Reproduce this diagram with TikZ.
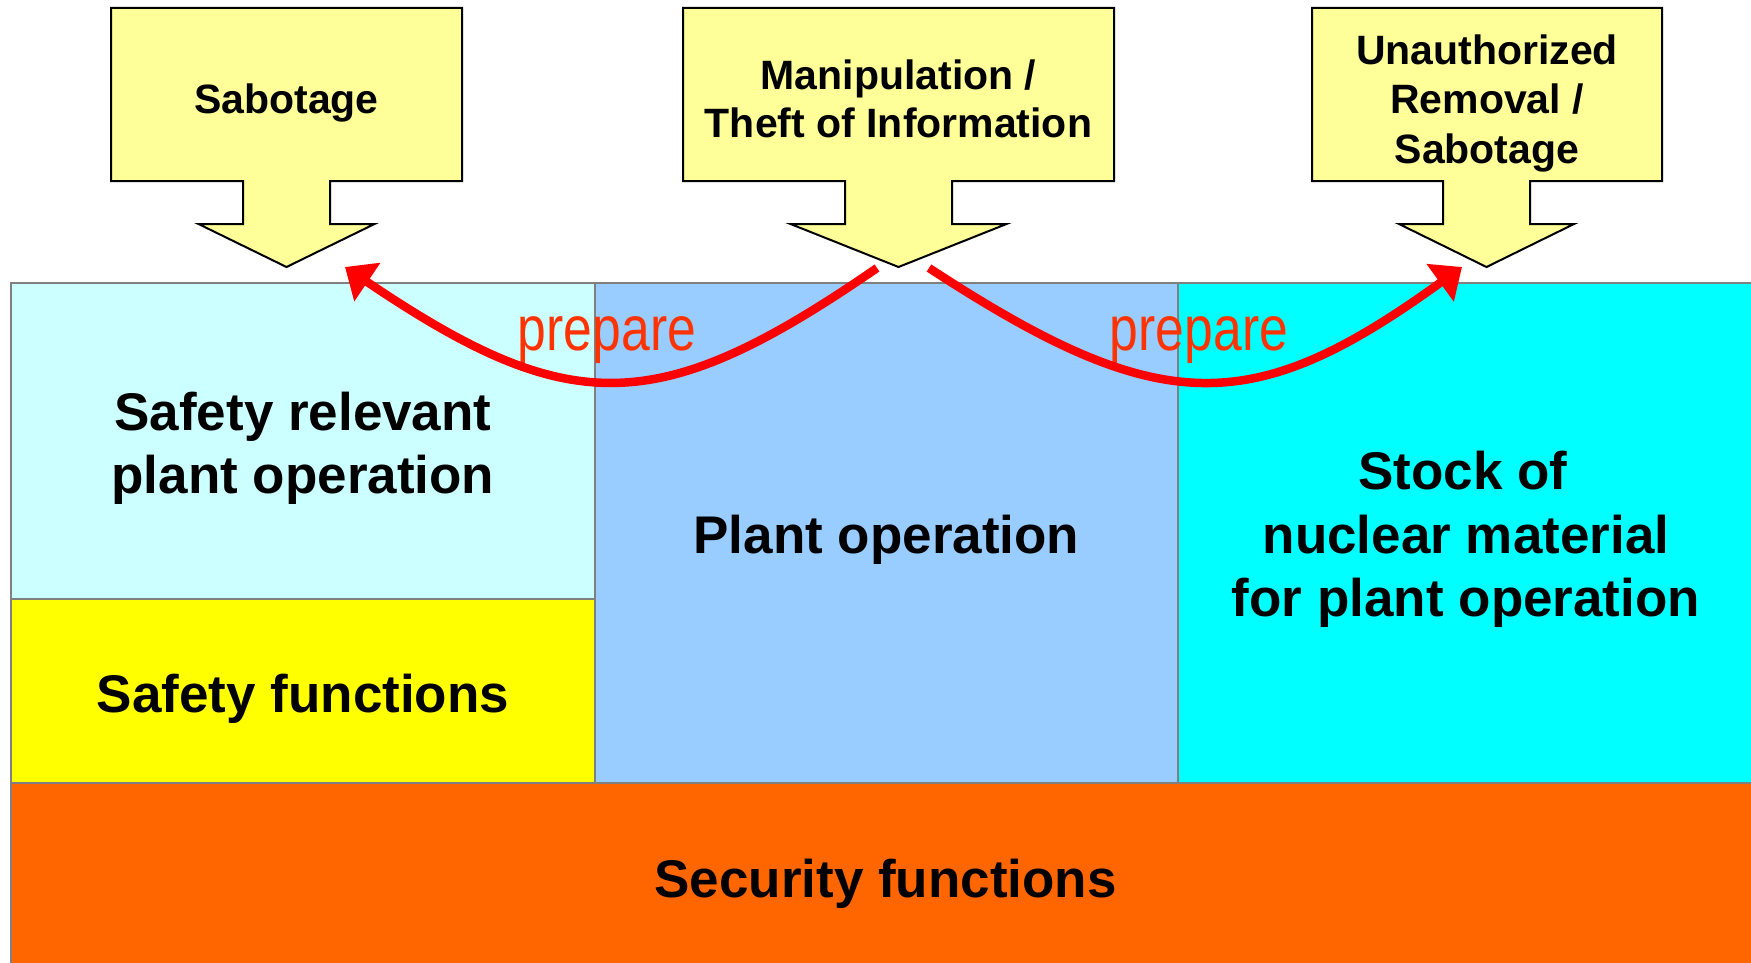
\documentclass[tikz,border=0pt]{standalone}
\usepackage{fontspec}
\setmainfont{Liberation Sans}
\usetikzlibrary{arrows.meta}

\definecolor{calloutfill}{HTML}{FFFF99}
\definecolor{safetyrel}{HTML}{CCFFFF}
\definecolor{plantop}{HTML}{99CCFF}
\definecolor{stockcol}{HTML}{00FFFF}
\definecolor{safetyfn}{HTML}{FFFF00}
\definecolor{securityfn}{HTML}{FF6600}
\definecolor{panelline}{HTML}{808080}
\definecolor{preparetext}{HTML}{FF3300}

\begin{document}
\begin{tikzpicture}[x=1pt,y=-1pt,
  callout/.style={draw=black, line width=2pt, fill=calloutfill, line join=miter},
  zone/.style={draw=panelline, line width=2pt},
  threat/.style={font=\bfseries\fontsize{41}{48}\selectfont, anchor=base, inner sep=0pt},
  areatext/.style={font=\bfseries\fontsize{53}{63}\selectfont, anchor=base, inner sep=0pt},
  preplabel/.style={font=\fontsize{63}{70}\selectfont, text=preparetext, anchor=base, inner sep=0pt},
  prep/.style={draw=red, line width=8.5pt, -{Triangle[length=27pt,width=45pt]}}
]
\useasboundingbox (0,0) rectangle (1751,963);
\clip (0,0) rectangle (1751,963);

% lower panel: plant areas and the security layer
\draw[zone, fill=safetyrel]  (11,283)   rectangle (595,599);
\draw[zone, fill=safetyfn]   (11,599)   rectangle (595,783);
\draw[zone, fill=plantop]    (595,283)  rectangle (1178,783);
\draw[zone, fill=stockcol]   (1178,283) rectangle (1770,783);
\draw[zone, fill=securityfn] (11,783)   rectangle (1770,990);

% threat callouts (box with a downward block arrow)
\draw[callout] (111,8) -- (462,8) -- (462,181) -- (330,181) -- (330,224)
  -- (374.5,224) -- (286.5,267) -- (198.5,224) -- (243,224) -- (243,181)
  -- (111,181) -- cycle;
\draw[callout] (683,8) -- (1114,8) -- (1114,181) -- (952,181) -- (952,224)
  -- (1006.5,224) -- (898.5,267) -- (790.5,224) -- (845,224) -- (845,181)
  -- (683,181) -- cycle;
\draw[callout] (1312,8) -- (1662,8) -- (1662,181) -- (1530,181) -- (1530,224)
  -- (1574,224) -- (1486.5,267) -- (1399,224) -- (1443,224) -- (1443,181)
  -- (1312,181) -- cycle;

% callout texts
\node[threat] (sab)  at (286.5,114)  {Sabotage};
\node[threat] (man1) at (898.5,89.3) {Manipulation /};
\node[threat] (man2) at (898.5,137.3) {Theft of Information};
\node[threat] (unr1) at (1487,65)    {Unauthorized};
\node[threat] (unr2) at (1487,113.3) {Removal /};
\node[threat] (unr3) at (1487,163.3) {Sabotage};

% area texts
\node[areatext] (srp1) at (303,430) {Safety relevant};
\node[areatext] (srp2) at (303,493) {plant operation};
\node[areatext] (sf)   at (303,712) {Safety functions};
\node[areatext] (po)   at (886.5,553) {Plant operation};
\node[areatext] (st1)  at (1463,489) {Stock of};
\node[areatext] (st2)  at (1466,553) {nuclear material};
\node[areatext] (st3)  at (1466,616) {for plant operation};
\node[areatext] (sec)  at (885.5,897) {Security functions};

% "prepare" labels
\node[preplabel] (prepL) at (607,350) {\scalebox{0.82}[1]{prepare}};
\node[preplabel] (prepR) at (1199,350) {\scalebox{0.82}[1]{prepare}};

% information theft prepares the other attacks
\coordinate (fromL) at (877,268);
\coordinate (toL)   at (345,267);
\coordinate (fromR) at (929,268);
\coordinate (toR)   at (1462,267);
\draw[prep] (fromL) .. controls (658,419) and (570,419) .. (toL);
\draw[prep] (fromR) .. controls (1160,419) and (1252,419) .. (toR);
\end{tikzpicture}
\end{document}
